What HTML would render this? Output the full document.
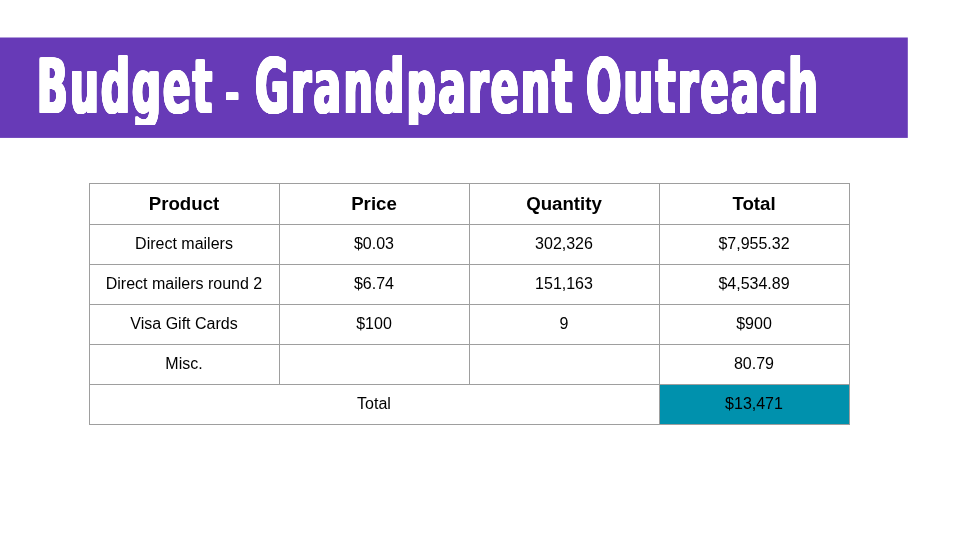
<!DOCTYPE html>
<html lang="en">
<head>
<meta charset="utf-8">
<title>Budget - Grandparent Outreach</title>
<style>
html,body{margin:0;padding:0;}
body{width:960px;height:540px;overflow:hidden;background:#fff;position:relative;font-family:"Liberation Sans",Arial,sans-serif;color:#000;}
.banner{position:absolute;left:0;top:37px;width:910px;height:102px;overflow:hidden;}
.banner svg{position:absolute;left:0;top:0;}
.title{position:absolute;left:0;top:0;width:907px;height:88px;overflow:hidden;margin:0;font-family:"DejaVu Sans","Liberation Sans",sans-serif;font-weight:bold;font-stretch:normal;font-size:73.4px;line-height:100px;color:#fff;white-space:nowrap;}
.title span{position:absolute;top:0.3px;height:100px;transform-origin:0 50%;letter-spacing:4px;text-shadow:-1.8px -0.8px 0 #fff,-1.8px 0px 0 #fff,-1.8px 0.8px 0 #fff,-0.9px -0.8px 0 #fff,-0.9px 0px 0 #fff,-0.9px 0.8px 0 #fff,0px -0.8px 0 #fff,0px 0.8px 0 #fff,0.9px -0.8px 0 #fff,0.9px 0px 0 #fff,0.9px 0.8px 0 #fff,1.8px -0.8px 0 #fff,1.8px 0px 0 #fff,1.8px 0.8px 0 #fff;}
.w1{left:36.8px;transform:scale(0.55,1.02);}
.w2{left:225.3px;transform:translateY(7px) scale(0.47,0.62);}
.w3{left:254.5px;transform:scale(0.56,1.02);}
.w4{left:585.8px;transform:scale(0.567,1.02);}
.grid{position:absolute;left:89px;top:183px;width:761px;height:242px;}
.h,.v{position:absolute;background:#9e9e9e;}
.h{left:0;width:761px;height:1px;}
.v{top:0;width:1px;height:242px;}
.c{position:absolute;padding-right:1px;box-sizing:border-box;width:189px;height:39px;line-height:39px;text-align:center;font-size:16px;white-space:nowrap;}
.c.hd{font-weight:bold;font-size:18.67px;height:40px;line-height:40px;}
.teal{position:absolute;left:571px;top:202px;width:189px;height:39px;background:#0091ad;}
</style>
</head>
<body>
<div class="banner"><svg width="910" height="102" viewBox="0 0 910 102"><rect x="-1" y="0.5" width="908.8" height="100.4" fill="#673ab7"/></svg><h1 class="title"><span class="w1">Budget</span> <span class="w2">-</span> <span class="w3">Grandparent</span> <span class="w4">Outreach</span></h1></div>
<div class="grid">
<div class="teal"></div>
<div class="h" style="top:0"></div><div class="h" style="top:41px"></div><div class="h" style="top:81px"></div><div class="h" style="top:121px"></div><div class="h" style="top:161px"></div><div class="h" style="top:201px"></div><div class="h" style="top:241px"></div>
<div class="v" style="left:0"></div><div class="v" style="left:190px;height:202px"></div><div class="v" style="left:380px;height:202px"></div><div class="v" style="left:570px"></div><div class="v" style="left:760px"></div>

<div class="c hd" style="left:1px;top:1px">Product</div>
<div class="c hd" style="left:191px;top:1px">Price</div>
<div class="c hd" style="left:381px;top:1px">Quantity</div>
<div class="c hd" style="left:571px;top:1px">Total</div>

<div class="c" style="left:1px;top:41px">Direct mailers</div>
<div class="c" style="left:191px;top:41px">$0.03</div>
<div class="c" style="left:381px;top:41px">302,326</div>
<div class="c" style="left:571px;top:41px">$7,955.32</div>

<div class="c" style="left:1px;top:81px">Direct mailers round 2</div>
<div class="c" style="left:191px;top:81px">$6.74</div>
<div class="c" style="left:381px;top:81px">151,163</div>
<div class="c" style="left:571px;top:81px">$4,534.89</div>

<div class="c" style="left:1px;top:121px">Visa Gift Cards</div>
<div class="c" style="left:191px;top:121px">$100</div>
<div class="c" style="left:381px;top:121px">9</div>
<div class="c" style="left:571px;top:121px">$900</div>

<div class="c" style="left:1px;top:161px">Misc.</div>
<div class="c" style="left:571px;top:161px">80.79</div>

<div class="c" style="left:1px;top:201px;width:569px">Total</div>
<div class="c" style="left:571px;top:201px">$13,471</div>
</div>
</body>
</html>
